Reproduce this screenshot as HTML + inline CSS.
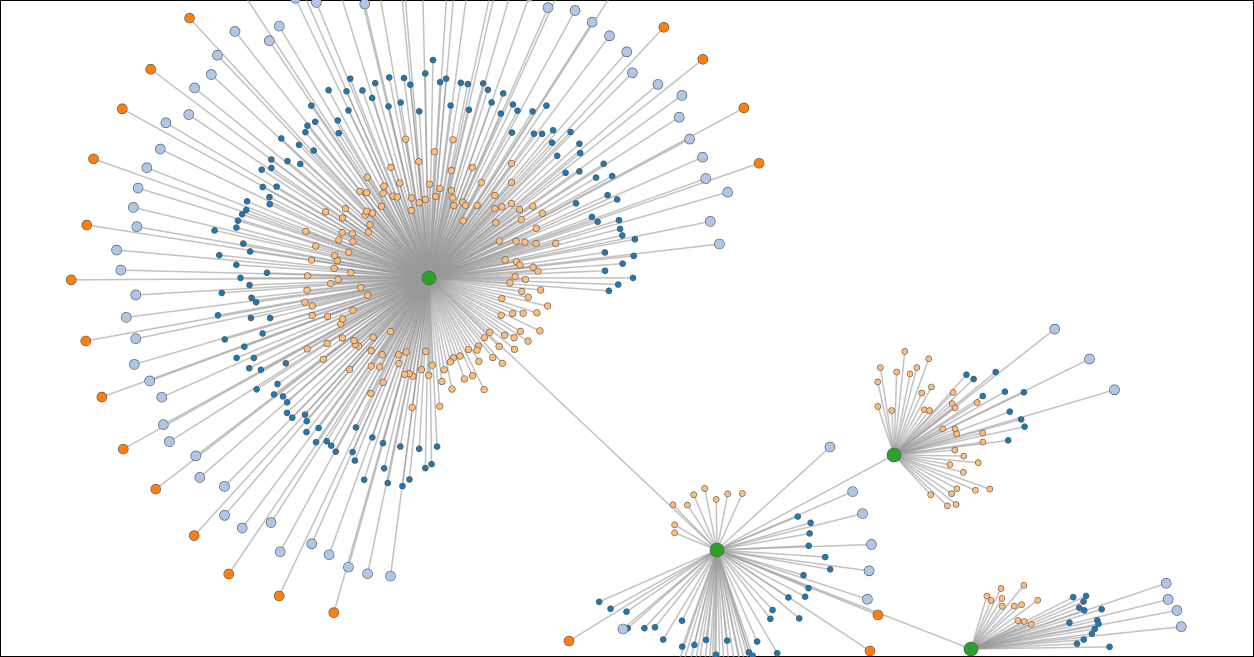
<!DOCTYPE html>
<html><head><meta charset="utf-8"><style>
html,body{margin:0;padding:0;background:#fff;overflow:hidden;width:1254px;height:657px}
svg{display:block}
</style></head><body>
<svg id="s" width="1254" height="657" xmlns="http://www.w3.org/2000/svg">
<rect x="0.5" y="0.5" width="1253" height="656" fill="#fff" stroke="#000"/>
<g id="L" stroke="#999" stroke-opacity="0.6" stroke-width="1.5"></g>
<g id="N" stroke="#555" stroke-width="0.6"></g>
</svg>
<script>
var seed=7;function r(){seed=(seed*16807)%2147483647;return (seed-1)/2147483646;}
var L=document.getElementById('L'),N=document.getElementById('N');
var NS='http://www.w3.org/2000/svg';
var nodes=[];
function line(x1,y1,x2,y2){var l=document.createElementNS(NS,'line');l.setAttribute('x1',x1);l.setAttribute('y1',y1);l.setAttribute('x2',x2);l.setAttribute('y2',y2);L.appendChild(l);}
function node(x,y,rad,col){nodes.push([x,y,rad,col]);}
var PE='#ffbb78',DB='#1f77b4',LB='#aec7e8',OR='#ff7f0e',GR='#2ca02c';
function ring(hx,hy,n,r0,r1,a0,a1,rad,col,jit){
 if(jit===undefined)jit=0.3;
 for(var i=0;i<n;i++){var a=(a0+(a1-a0)*(i+0.5)/n+(r()-0.5)*(a1-a0)/n*jit)*Math.PI/180;
  var R=r0+(r1-r0)*((i*0.37)%1*0.5+r()*0.5);var x=hx+R*Math.cos(a),y=hy+R*Math.sin(a);
  line(hx,hy,x,y);node(x,y,rad,col);}
}
var hx=429,hy=278;
ring(hx,hy,150,55,145,0,360,3.3,PE);
ring(hx,hy,135,160,225,86,365,3,DB);
ring(hx,hy,62,280,322,95,355,5,LB);
ring(hx,hy,26,340,362,100,345,5,OR);
ring(894,455,34,40,115,250,410,3,PE);
ring(894,455,10,100,150,-50,-5,3,DB);
ring(894,455,3,195,240,-42,-12,5,LB);
ring(717,550,9,35,75,195,300,3,PE);
ring(717,550,24,75,125,-25,125,3,DB);
ring(717,550,6,95,135,125,160,3,DB);
ring(717,550,5,140,175,-30,25,5,LB);
ring(717,550,2,140,160,60,100,5,LB);
ring(717,550,16,110,200,70,110,3,DB);
node(878,615,5,OR);line(717,550,878,615);
node(870,651,5,OR);line(717,550,870,651);
node(569,641,5,OR);line(717,550,569,641);
node(623,629,5,LB);line(717,550,623,629);
node(830,447,5,LB);line(717,550,830,447);
ring(971,649,12,40,90,-75,-20,3,PE);
ring(971,649,14,90,150,-28,0,3,DB);
ring(971,649,4,195,225,-20,-4,5,LB);
line(429,278,717,550);line(717,550,894,455);line(717,550,971,649);
node(429,278,7,GR);node(894,455,7,GR);node(717,550,7,GR);node(971,649,7,GR);
nodes.forEach(function(n){var c=document.createElementNS(NS,'circle');c.setAttribute('cx',n[0]);c.setAttribute('cy',n[1]);c.setAttribute('r',n[2]);c.setAttribute('fill',n[3]);N.appendChild(c);});
</script>
</body></html>
